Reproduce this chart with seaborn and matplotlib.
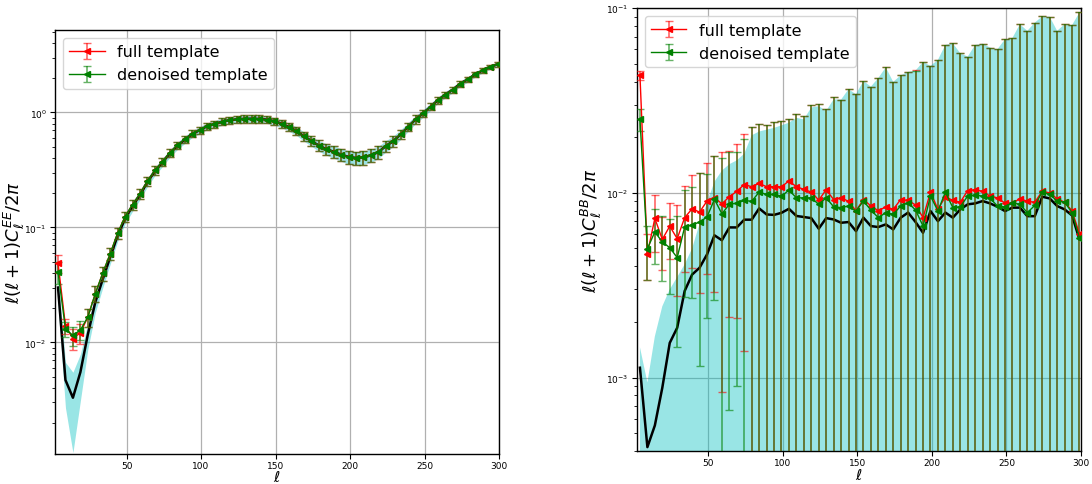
import numpy as np
import pandas as pd
import matplotlib
matplotlib.use("Agg")
import matplotlib.pyplot as plt
import seaborn as sns

# ---------------- data ----------------
ell = [4, 9, 14, 19, 24, 29, 34, 39, 44, 49, 54, 59, 64, 69, 74, 79, 84, 89, 94, 99,
       104, 109, 114, 119, 124, 129, 134, 139, 144, 149, 154, 159, 164, 169, 174, 179, 184, 189, 194, 199,
       204, 209, 214, 219, 224, 229, 234, 239, 244, 249, 254, 259, 264, 269, 274, 279, 284, 289, 294, 299]

# EE spectrum
ee_model = [0.030, 0.0047, 0.0033, 0.0055, 0.0117, 0.0223, 0.0353, 0.055, 0.085, 0.119,
            0.153, 0.192, 0.248, 0.308, 0.367, 0.440, 0.512, 0.578, 0.650, 0.700,
            0.758, 0.790, 0.830, 0.855, 0.870, 0.880, 0.882, 0.878, 0.865, 0.840,
            0.800, 0.745, 0.690, 0.620, 0.565, 0.515, 0.480, 0.455, 0.430, 0.410,
            0.402, 0.407, 0.423, 0.452, 0.510, 0.563, 0.645, 0.750, 0.870, 0.980,
            1.12, 1.28, 1.43, 1.58, 1.78, 1.94, 2.14, 2.32, 2.49, 2.62]
ee_full = [0.049, 0.0139, 0.0108, 0.0121, 0.0166, 0.0265, 0.040, 0.059, 0.089, 0.124,
           0.158, 0.196, 0.253, 0.313, 0.372, 0.446, 0.516, 0.582, 0.653, 0.702,
           0.760, 0.790, 0.830, 0.855, 0.870, 0.880, 0.882, 0.878, 0.865, 0.840,
           0.800, 0.745, 0.690, 0.620, 0.565, 0.515, 0.480, 0.455, 0.430, 0.410,
           0.402, 0.407, 0.423, 0.452, 0.510, 0.563, 0.645, 0.750, 0.870, 0.980,
           1.12, 1.28, 1.43, 1.58, 1.78, 1.94, 2.14, 2.32, 2.49, 2.62]
ee_denoised = [0.041, 0.0131, 0.0115, 0.0128, 0.0166, 0.0265, 0.040, 0.059, 0.089, 0.124,
               0.158, 0.196, 0.253, 0.313, 0.372, 0.446, 0.516, 0.582, 0.653, 0.702,
               0.760, 0.790, 0.830, 0.855, 0.870, 0.880, 0.882, 0.878, 0.865, 0.840,
               0.800, 0.745, 0.690, 0.620, 0.565, 0.515, 0.480, 0.455, 0.430, 0.410,
               0.402, 0.407, 0.423, 0.452, 0.510, 0.563, 0.645, 0.750, 0.870, 0.980,
               1.12, 1.28, 1.43, 1.58, 1.78, 1.94, 2.14, 2.32, 2.49, 2.62]
ee_sigma = [0.009, 0.0020, 0.0022, 0.0024, 0.003, 0.0042, 0.0055, 0.0072, 0.0095, 0.012,
            0.015, 0.018, 0.022, 0.026, 0.030, 0.034, 0.038, 0.042, 0.046, 0.050,
            0.054, 0.057, 0.060, 0.062, 0.064, 0.065, 0.065, 0.065, 0.064, 0.063,
            0.062, 0.060, 0.059, 0.057, 0.056, 0.055, 0.055, 0.055, 0.055, 0.055,
            0.055, 0.055, 0.055, 0.056, 0.058, 0.060, 0.063, 0.067, 0.071, 0.075,
            0.080, 0.085, 0.090, 0.095, 0.100, 0.105, 0.110, 0.115, 0.120, 0.125]

# BB spectrum
bb_model = [0.00113, 0.00042, 0.00055, 0.00088, 0.00154, 0.00186, 0.00294, 0.00361, 0.00393, 0.00464,
            0.00589, 0.00554, 0.0065, 0.0065, 0.00716, 0.00716, 0.00824, 0.00764, 0.0076, 0.0078,
            0.0082, 0.0075, 0.0074, 0.0073, 0.0064, 0.0073, 0.00718, 0.00689, 0.00695, 0.00621,
            0.00734, 0.00661, 0.00653, 0.00675, 0.00634, 0.00734, 0.00782, 0.00695, 0.00608, 0.00797,
            0.00703, 0.00782, 0.00734, 0.00814, 0.00867, 0.00877, 0.00903, 0.00877, 0.00841, 0.00797,
            0.00832, 0.00832, 0.00748, 0.00748, 0.00953, 0.00933, 0.00849, 0.00814, 0.00755, 0.0056]
bb_full = [0.0433, 0.00468, 0.00728, 0.0056, 0.0066, 0.00565, 0.00734, 0.0082, 0.00787, 0.00903,
           0.00942, 0.00873, 0.00953, 0.0102, 0.0111, 0.0108, 0.01125, 0.0108, 0.0108, 0.0108,
           0.0116, 0.0108, 0.01045, 0.0101, 0.00914, 0.0104, 0.0092, 0.0094, 0.0090, 0.0080,
           0.0092, 0.0085, 0.0080, 0.0084, 0.00815, 0.0092, 0.0091, 0.0086, 0.00734, 0.0101,
           0.00815, 0.00953, 0.0091, 0.0089, 0.0103, 0.0104, 0.0102, 0.0096, 0.0094, 0.0088,
           0.0088, 0.0093, 0.0090, 0.0089, 0.0102, 0.0100, 0.0093, 0.0089, 0.0080, 0.0060]
bb_full_err = [0.0023, 0.0013, 0.0025, 0.0018, 0.0022, 0.0029, 0.0036, 0.0043, 0.0050, 0.0054,
               0.0065, 0.0079, 0.0074, 0.0081, 0.0097, 0.0120, 0.0124, 0.0124, 0.0134, 0.0137,
               0.0134, 0.0158, 0.0156, 0.0199, 0.0211, 0.0181, 0.0238, 0.0226, 0.0274, 0.0262,
               0.0312, 0.0291, 0.0339, 0.0394, 0.0318, 0.0341, 0.0361, 0.0374, 0.0439, 0.0386,
               0.0444, 0.0538, 0.0555, 0.0481, 0.0444, 0.0529, 0.0541, 0.0516, 0.0506, 0.0591,
               0.0602, 0.0726, 0.0664, 0.0747, 0.0800, 0.0800, 0.0661, 0.0730, 0.0730, 0.0888]
bb_denoised = [0.0250, 0.00499, 0.00614, 0.00543, 0.00505, 0.00446, 0.00653, 0.0067, 0.00695, 0.0074,
               0.00923, 0.0077, 0.00867, 0.0088, 0.0091, 0.0090, 0.0101, 0.0098, 0.0098, 0.0096,
               0.01035, 0.0094, 0.0094, 0.0094, 0.00867, 0.0094, 0.00841, 0.00832, 0.00849, 0.00797,
               0.00903, 0.00807, 0.00734, 0.00782, 0.00766, 0.00849, 0.00885, 0.00807, 0.00661, 0.00962,
               0.00797, 0.0101, 0.00832, 0.00841, 0.00962, 0.0097, 0.00962, 0.00933, 0.00849, 0.00838,
               0.00885, 0.00867, 0.00782, 0.00855, 0.0101, 0.00982, 0.00903, 0.00892, 0.00782, 0.00571]
bb_denoised_err = [0.0034, 0.0016, 0.0020, 0.0021, 0.0022, 0.0030, 0.0038, 0.0040, 0.0058, 0.0053,
                   0.0066, 0.0077, 0.0080, 0.0079, 0.0105, 0.0138, 0.0135, 0.0134, 0.0144, 0.0149,
                   0.0147, 0.0172, 0.0166, 0.0206, 0.0215, 0.0191, 0.0246, 0.0237, 0.0279, 0.0262,
                   0.0314, 0.0295, 0.0346, 0.0400, 0.0322, 0.0348, 0.0364, 0.0379, 0.0446, 0.0391,
                   0.0445, 0.0532, 0.0563, 0.0486, 0.0451, 0.0536, 0.0547, 0.0519, 0.0515, 0.0595,
                   0.0602, 0.0732, 0.0676, 0.0751, 0.0801, 0.0802, 0.0664, 0.0730, 0.0732, 0.0891]
bb_band_upper = [0.00146, 0.00094, 0.00167, 0.00243, 0.0030, 0.0035, 0.0041, 0.0050, 0.0068, 0.0088,
                 0.0115, 0.0132, 0.0143, 0.0150, 0.0163, 0.0205, 0.0215, 0.0220, 0.0225, 0.0232,
                 0.0240, 0.0255, 0.0250, 0.0290, 0.0295, 0.0278, 0.0321, 0.0320, 0.0364, 0.0342,
                 0.0404, 0.0376, 0.0419, 0.0478, 0.0399, 0.0433, 0.0452, 0.0460, 0.0512, 0.0487,
                 0.0525, 0.0633, 0.0646, 0.0570, 0.0547, 0.0633, 0.0643, 0.0612, 0.0600, 0.0679,
                 0.0690, 0.0819, 0.0754, 0.0836, 0.0902, 0.0900, 0.0754, 0.0819, 0.0810, 0.0948]
bb_band_lower = [0.0002, 0.0001, 0.0001, 0.0001, 0.0001, 0.0001, 0.0001, 0.0001, 0.0001, 0.0001,
                 0.0001, 0.0001, 0.0001, 0.0001, 0.0001, 0.0001, 0.0001, 0.0001, 0.0001, 0.0001,
                 0.0001, 0.0001, 0.0001, 0.0001, 0.0001, 0.0001, 0.0001, 0.0001, 0.0001, 0.0001,
                 0.0001, 0.0001, 0.0001, 0.0001, 0.0001, 0.0001, 0.0001, 0.0001, 0.0001, 0.0001,
                 0.0001, 0.0001, 0.0001, 0.0001, 0.0001, 0.0001, 0.0001, 0.0001, 0.0001, 0.0001,
                 0.0001, 0.0001, 0.0001, 0.0001, 0.0001, 0.0001, 0.0001, 0.0001, 0.0001, 0.0001]

xticks = [50, 100, 150, 200, 250, 300]
legend_labels = ["full template", "denoised template"]

# ---------------- figure ----------------
fig = plt.figure(figsize=(10.92, 4.85), dpi=100)
axL = fig.add_axes([0.0504, 0.0619, 0.4066, 0.874])
axR = fig.add_axes([0.5833, 0.068, 0.4066, 0.913])

ell_a = np.array(ell, dtype=float)


def draw_errorbars(ax, y, yerr, color, label):
    cont = ax.errorbar(ell_a, y, yerr=yerr, color=color, marker='<', ms=4, lw=1,
                       capsize=3, elinewidth=1.2, label=label, zorder=3)
    for cap in cont[1]:
        cap.set_alpha(0.6)
    for bl in cont[2]:
        bl.set_alpha(0.6)
    return cont


def style_axis(ax, ylabel, ylim, ylab_x, xlab_y):
    ax.set_yscale('log')
    ax.set_xlim(2, 300)
    ax.set_ylim(*ylim)
    ax.set_xticks(xticks)
    ax.grid(True, which='major', color='#b0b0b0', lw=0.9)
    ax.set_axisbelow(True)
    ax.tick_params(axis='both', which='major', labelsize=6.5, pad=2.5)
    ax.tick_params(axis='x', which='major', pad=1.8)
    ax.tick_params(axis='y', which='minor', length=2)
    ax.set_xlabel(r'$\ell$', fontsize=11, labelpad=0)
    ax.xaxis.set_label_coords(0.5, xlab_y)
    ax.set_ylabel(ylabel, fontsize=13)
    ax.yaxis.set_label_coords(ylab_x, 0.5)
    for sp in ax.spines.values():
        sp.set_color('black')
        sp.set_linewidth(1.0)


# left: EE
ee_lo = np.array(ee_model) - np.array(ee_sigma)
ee_hi = np.array(ee_model) + np.array(ee_sigma)
axL.fill_between(ell_a, ee_lo, ee_hi, color='c', alpha=0.4, lw=0, zorder=1)
sns.lineplot(x=ell_a, y=ee_model, ax=axL, color='black', lw=1.8, zorder=2, legend=False)
draw_errorbars(axL, ee_full, ee_sigma, 'red', legend_labels[0])
draw_errorbars(axL, ee_denoised, ee_sigma, 'green', legend_labels[1])
style_axis(axL, r'$\ell(\ell+1)C_\ell^{EE}/2\pi$', (1.07e-3, 5.2), -0.064, -0.035)
axL.legend(loc='upper left', fontsize=11.5, borderaxespad=0.5, handlelength=2.2)

# right: BB
axR.fill_between(ell_a, bb_band_lower, bb_band_upper, color='c', alpha=0.4, lw=0, zorder=1)
sns.lineplot(x=ell_a, y=bb_model, ax=axR, color='black', lw=1.8, zorder=2, legend=False)
draw_errorbars(axR, bb_full, bb_full_err, 'red', legend_labels[0])
draw_errorbars(axR, bb_denoised, bb_denoised_err, 'green', legend_labels[1])
style_axis(axR, r'$\ell(\ell+1)C_\ell^{BB}/2\pi$', (4.0e-4, 0.1), -0.074, -0.037)
axR.legend(loc='upper left', fontsize=11.5, borderaxespad=0.5, handlelength=2.2)

fig.savefig('out.png', dpi=100)
